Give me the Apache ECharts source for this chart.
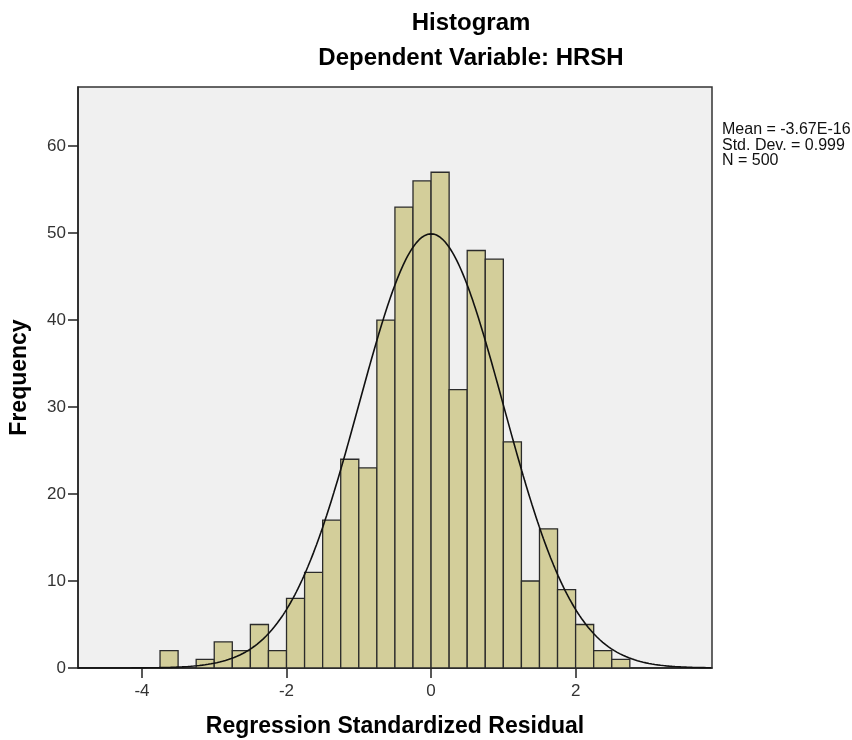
<!DOCTYPE html>
<html>
<head>
<meta charset="utf-8">
<script src="https://cdn.jsdelivr.net/npm/echarts@6/dist/echarts.min.js"></script>
<style>html,body{margin:0;padding:0;background:#fff}#c{width:852px;height:740px}</style>
</head>
<body>
<div id="c"></div>
<script>
// ---- data ----
const binLower = [-3.75,-3.5,-3.25,-3.0,-2.75,-2.5,-2.25,-2.0,-1.75,-1.5,-1.25,-1.0,-0.75,-0.5,-0.25,0.0,0.25,0.5,0.75,1.0,1.25,1.5,1.75,2.0,2.25,2.5];
const counts   = [2,0,1,3,2,5,2,8,11,17,24,23,40,53,56,57,32,48,47,26,10,16,9,5,2,1];
const binWidth = 0.25;
const xTicks = [-4,-2,0,2];
const yTicks = [0,10,20,30,40,50,60];
const statLabels = ['Mean = -3.67E-16','Std. Dev. = 0.999','N = 500'];
const statMean = -3.67e-16, statSD = 0.999, statN = 500;
const xMin = -4.885, xMax = 3.887, yMax = 66.8;

// normal fit curve from the reported statistics
const curve = [];
for (let x = xMin; x <= xMax + 1e-9; x += 0.02) {
  const z = (x - statMean) / statSD;
  curve.push([x, statN * binWidth * Math.exp(-0.5 * z * z) / (statSD * Math.sqrt(2 * Math.PI))]);
}
const barData = binLower.map((lo, i) => [lo, lo + binWidth, counts[i]]);

const FONT = '"Liberation Sans", Arial, sans-serif';
const chart = echarts.init(document.getElementById('c'), null, {renderer: 'canvas'});
chart.setOption({
  animation: false,
  backgroundColor: '#ffffff',
  grid: {left: 78, right: 140, top: 87, bottom: 72, show: true, backgroundColor: '#f0f0f0', borderColor: '#333', borderWidth: 1.5, containLabel: false, outerBoundsMode: 'none'},
  xAxis: {
    type: 'value', min: xMin, max: xMax,
    name: 'Regression Standardized Residual', nameLocation: 'middle', nameGap: 47,
    nameTextStyle: {fontFamily: FONT, fontWeight: 'bold', fontSize: 23, color: '#000'},
    axisLine: {show: true, onZero: false, lineStyle: {color: '#222', width: 1.5}},
    axisTick: {show: true, length: 10, customValues: xTicks, lineStyle: {color: '#222', width: 1.5}},
    axisLabel: {customValues: xTicks, fontFamily: FONT, fontSize: 17, color: '#333', margin: 15},
    splitLine: {show: false}
  },
  yAxis: {
    type: 'value', min: 0, max: yMax,
    name: 'Frequency', nameLocation: 'middle', nameGap: 47, nameRotate: 90,
    nameTextStyle: {fontFamily: FONT, fontWeight: 'bold', fontSize: 23, color: '#000'},
    axisLine: {show: true, onZero: false, lineStyle: {color: '#222', width: 1.5}},
    axisTick: {show: true, length: 10, customValues: yTicks, lineStyle: {color: '#222', width: 1.5}},
    axisLabel: {customValues: yTicks, fontFamily: FONT, fontSize: 17, color: '#333', margin: 12},
    splitLine: {show: false}
  },
  graphic: [
    {type: 'text', x: 471, y: 23, style: {text: 'Histogram', font: 'bold 24px ' + FONT, fill: '#000', textAlign: 'center', textVerticalAlign: 'middle'}, z: 10},
    {type: 'text', x: 471, y: 58, style: {text: 'Dependent Variable: HRSH', font: 'bold 24px ' + FONT, fill: '#000', textAlign: 'center', textVerticalAlign: 'middle'}, z: 10},
    {type: 'text', x: 722, y: 122, style: {text: statLabels.join('\n'), font: '16px ' + FONT, lineHeight: 15.5, fill: '#111'}, z: 10}
  ],
  series: [
    {
      type: 'custom',
      data: barData,
      encode: {x: [0, 1], y: 2},
      renderItem: function (params, api) {
        const p0 = api.coord([api.value(0), api.value(2)]);
        const p1 = api.coord([api.value(1), 0]);
        if (api.value(2) <= 0) return null;
        return {
          type: 'rect',
          shape: {x: p0[0], y: p0[1], width: p1[0] - p0[0], height: p1[1] - p0[1]},
          style: {fill: '#d3ce9a', stroke: '#2b2b2b', lineWidth: 1.3}
        };
      },
      z: 2
    },
    {
      type: 'line', data: curve, showSymbol: false, smooth: false,
      lineStyle: {color: '#111', width: 1.6}, z: 3, silent: true
    }
  ]
});
</script>
</body>
</html>
